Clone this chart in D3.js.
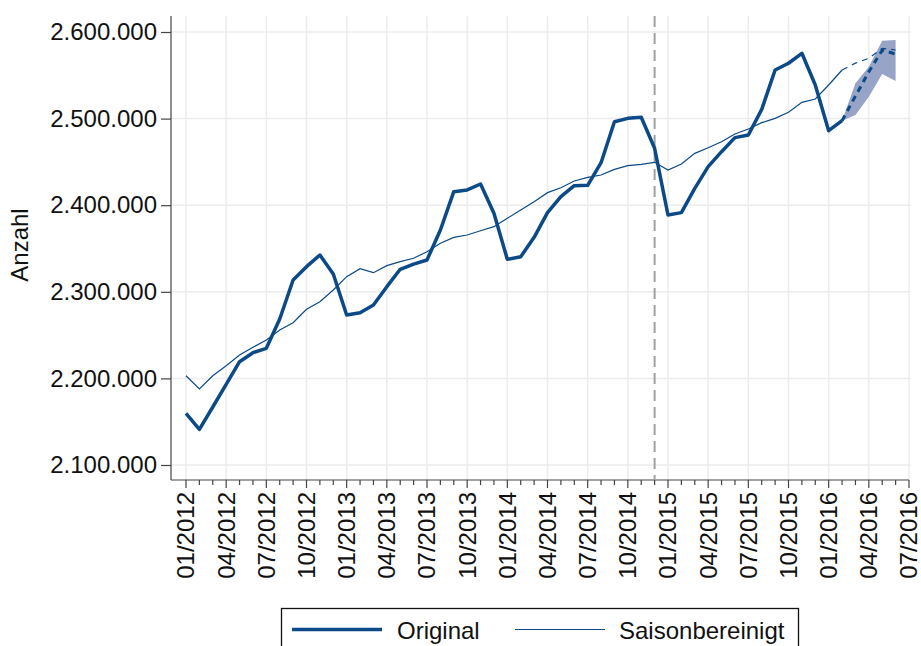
<!DOCTYPE html>
<html>
<head>
<meta charset="utf-8">
<script src="https://cdn.jsdelivr.net/npm/d3@7"></script>
<style>
  body { margin: 0; background: #fff; }
  svg { display: block; font-family: Arial, "Liberation Sans", Helvetica, sans-serif; }
</style>
</head>
<body>
<div id="chart"></div>
<script>
// month index 0 = 01/2012
const tickLabels = ['01/2012','04/2012','07/2012','10/2012','01/2013','04/2013','07/2013','10/2013',
  '01/2014','04/2014','07/2014','10/2014','01/2015','04/2015','07/2015','10/2015','01/2016','04/2016','07/2016']
const yTicks = [2100000, 2200000, 2300000, 2400000, 2500000, 2600000]

const original = [2159700, 2141200, 2167000, 2193000, 2219300, 2229700, 2234700, 2268600, 2313600, 2329000,
  2342500, 2320500, 2273200, 2275900, 2284800, 2305900, 2326000, 2332000, 2336700, 2371400,
  2415600, 2417600, 2424500, 2390600, 2337500, 2340500, 2362900, 2391500, 2409800, 2422500,
  2423000, 2449100, 2496400, 2500300, 2501500, 2465700, 2388700, 2391400, 2419500, 2444500,
  2461800, 2478000, 2481100, 2510700, 2556100, 2563900, 2575400, 2538800, 2486000, 2497600]
const seasonal = [2203100, 2187800, 2203100, 2214700, 2227000, 2235900, 2244300, 2255900, 2264300, 2279800,
  2288600, 2302100, 2317500, 2326700, 2322100, 2330200, 2334800, 2338700, 2346300, 2356000,
  2362900, 2365600, 2370500, 2375200, 2384900, 2394500, 2404000, 2414500, 2420200, 2427900,
  2432200, 2434900, 2441400, 2445600, 2447200, 2449500, 2440600, 2447600, 2459900, 2466400,
  2473300, 2482200, 2488000, 2495300, 2500300, 2507300, 2518800, 2522600, 2538800, 2556100]
// forecast starts at last observed month (index 49)
const forecastStart = 49
const forecastOriginal = [2497600, 2526000, 2554000, 2579000, 2574600]
const forecastSeasonal = [2556100, 2564000, 2569600, 2581200, 2579200]
const bandUpper = [2497600, 2540800, 2559900, 2590000, 2590800]
const bandLower = [2497600, 2504200, 2525300, 2551500, 2543400]
const breakMonth = 35

const W = 921, H = 646
const navy = '#0b4a87'
const plotTop = 16, plotBottom = 480, plotLeft = 171, plotRight = 911

const x = d3.scaleLinear().domain([0, 54]).range([186, 909])
const y = d3.scaleLinear().domain([2100000, 2600000]).range([465, 32])

const de = d3.formatLocale({ decimal: ',', thousands: '.', grouping: [3], currency: ['', '€'] })
const fmt = de.format(',.0f')

const svg = d3.select('#chart').append('svg').attr('width', W).attr('height', H)

// grid
const grid = svg.append('g')
grid.selectAll('line.h').data(yTicks).enter().append('line')
  .attr('x1', plotLeft).attr('x2', plotRight)
  .attr('y1', d => y(d)).attr('y2', d => y(d))
  .attr('stroke', '#ececec').attr('stroke-width', 1.5)
grid.selectAll('line.v').data(tickLabels).enter().append('line')
  .attr('x1', (d, i) => x(i * 3)).attr('x2', (d, i) => x(i * 3))
  .attr('y1', plotTop).attr('y2', plotBottom)
  .attr('stroke', '#ececec').attr('stroke-width', 1.5)

// y axis
const yAxis = svg.append('g').attr('transform', 'translate(' + plotLeft + ',0)')
  .call(d3.axisLeft(y).tickValues(yTicks).tickFormat(fmt).tickSize(10).tickPadding(4))
yAxis.select('.domain').remove()
yAxis.append('line').attr('y1', plotTop).attr('y2', plotBottom).attr('stroke', '#444').attr('stroke-width', 1.2)
yAxis.selectAll('.tick line').attr('stroke', '#444').attr('stroke-width', 1.2)
yAxis.selectAll('.tick text').attr('font-size', 24).attr('fill', '#111').attr('font-family', 'Arial, "Liberation Sans", sans-serif')

// x axis: monthly minor ticks, quarterly labels
const xAxis = svg.append('g').attr('transform', 'translate(0,' + plotBottom + ')')
xAxis.append('line').attr('x1', plotLeft).attr('x2', x(54)).attr('stroke', '#444').attr('stroke-width', 1.2)
xAxis.selectAll('line.minor').data(d3.range(0, 55)).enter().append('line')
  .attr('x1', d => x(d)).attr('x2', d => x(d))
  .attr('y1', 0).attr('y2', d => d % 3 === 0 ? 8 : 5)
  .attr('stroke', '#444').attr('stroke-width', 1.2)
xAxis.selectAll('text').data(tickLabels).enter().append('text')
  .attr('transform', (d, i) => 'translate(' + x(i * 3) + ',12) rotate(-90)')
  .attr('text-anchor', 'end')
  .attr('dy', '0.35em')
  .attr('font-size', 24).attr('fill', '#111')
  .text(d => d)

// y title
svg.append('text')
  .attr('transform', 'translate(28,245) rotate(-90)')
  .attr('text-anchor', 'middle')
  .attr('font-size', 24).attr('fill', '#111')
  .text('Anzahl')

// structural break
svg.append('line')
  .attr('x1', x(breakMonth)).attr('x2', x(breakMonth))
  .attr('y1', plotTop).attr('y2', plotBottom)
  .attr('stroke', '#a0a0a0').attr('stroke-width', 2).attr('stroke-dasharray', '11,6')

// confidence band
const fIdx = forecastOriginal.map((d, i) => forecastStart + i)
const area = d3.area()
  .x((d, i) => x(fIdx[i]))
  .y0((d, i) => y(bandLower[i]))
  .y1((d, i) => y(bandUpper[i]))
svg.append('path').datum(bandUpper).attr('d', area).attr('fill', '#98a3c8')

const line = d3.line().x((d, i) => x(i)).y(d => y(d))
const fline = d3.line().x((d, i) => x(fIdx[i])).y(d => y(d))

svg.append('path').datum(seasonal).attr('d', line)
  .attr('fill', 'none').attr('stroke', navy).attr('stroke-width', 1.2)
svg.append('path').datum(forecastSeasonal).attr('d', fline)
  .attr('fill', 'none').attr('stroke', navy).attr('stroke-width', 1.2).attr('stroke-dasharray', '6,5')

svg.append('path').datum(original).attr('d', line)
  .attr('fill', 'none').attr('stroke', navy).attr('stroke-width', 3.5).attr('stroke-linejoin', 'round')
svg.append('path').datum(forecastOriginal).attr('d', fline)
  .attr('fill', 'none').attr('stroke', navy).attr('stroke-width', 3).attr('stroke-dasharray', '6,5')

// legend
const legend = svg.append('g')
legend.append('rect').attr('x', 281.5).attr('y', 608.5).attr('width', 517).attr('height', 60)
  .attr('fill', '#fff').attr('stroke', '#111').attr('stroke-width', 1.3)
const legendItems = [
  { label: 'Original', width: 3.5, x0: 292, x1: 382, tx: 397 },
  { label: 'Saisonbereinigt', width: 1.2, x0: 515, x1: 605, tx: 619 }
]
legendItems.forEach(it => {
  legend.append('line').attr('x1', it.x0).attr('x2', it.x1).attr('y1', 629.5).attr('y2', 629.5)
    .attr('stroke', navy).attr('stroke-width', it.width)
  legend.append('text').attr('x', it.tx).attr('y', 639).attr('font-size', 24).attr('fill', '#111').text(it.label)
})
</script>
</body>
</html>
